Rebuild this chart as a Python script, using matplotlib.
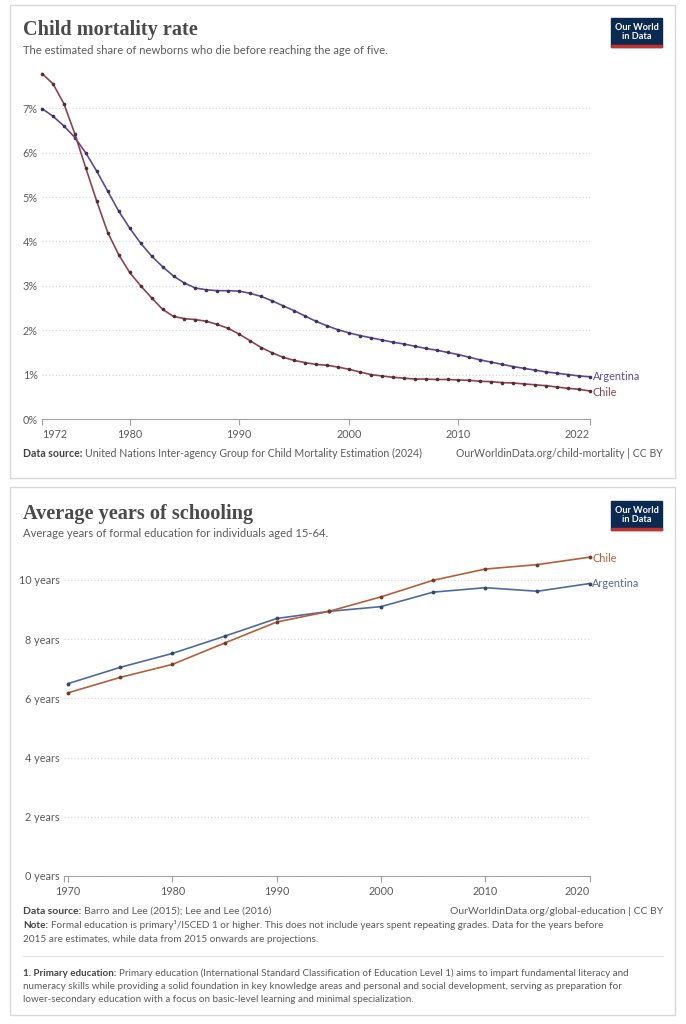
import matplotlib
matplotlib.use("Agg")
import matplotlib.pyplot as plt
from matplotlib.patches import Rectangle

W, H = 686, 1024

# ---- child mortality data (share of newborns dying before age 5, %)
mort_years = list(range(1972, 2023))
mort_chile = [7.78, 7.55, 7.10, 6.42, 5.65, 4.90, 4.20, 3.70, 3.30, 3.00,
              2.73, 2.47, 2.31, 2.26, 2.24, 2.20, 2.13, 2.04, 1.91, 1.76,
              1.61, 1.49, 1.39, 1.32, 1.27, 1.23, 1.21, 1.17, 1.12, 1.06,
              1.00, 0.97, 0.94, 0.92, 0.90, 0.90, 0.89, 0.89, 0.88, 0.87,
              0.85, 0.84, 0.82, 0.81, 0.79, 0.77, 0.75, 0.72, 0.69, 0.67, 0.63]
mort_argentina = [6.99, 6.82, 6.60, 6.34, 5.99, 5.58, 5.13, 4.68, 4.30, 3.96,
                  3.67, 3.43, 3.22, 3.06, 2.95, 2.91, 2.89, 2.89, 2.88, 2.83,
                  2.76, 2.66, 2.55, 2.44, 2.32, 2.20, 2.10, 2.01, 1.94, 1.88,
                  1.83, 1.78, 1.73, 1.69, 1.64, 1.59, 1.55, 1.50, 1.45, 1.39,
                  1.33, 1.28, 1.23, 1.18, 1.14, 1.10, 1.06, 1.03, 1.00, 0.97, 0.95]
mort_xticks = [1972, 1980, 1990, 2000, 2010, 2022]
mort_yticks = [0, 1, 2, 3, 4, 5, 6, 7]

# ---- schooling data (average years of formal education, 15-64)
school_years = [1970, 1975, 1980, 1985, 1990, 1995, 2000, 2005, 2010, 2015, 2020]
school_chile = [6.19, 6.71, 7.15, 7.87, 8.58, 8.94, 9.43, 9.99, 10.37, 10.52, 10.77]
school_argentina = [6.50, 7.05, 7.52, 8.10, 8.70, 8.94, 9.10, 9.59, 9.74, 9.62, 9.88]
school_xticks = [1970, 1980, 1990, 2000, 2010, 2020]
school_yticks = [0, 2, 4, 6, 8, 10]

plt.rcParams['font.family'] = ['Lato', 'DejaVu Sans']
fig = plt.figure(figsize=(W / 100, H / 100), dpi=100)
fig.patch.set_facecolor('white')

TXT = '#5b5b5b'
GRID = '#d4d4d4'
AXIS = '#a0a0a0'
SERIF = ['Liberation Serif', 'DejaVu Serif']


def fx(x):
    return x / W


def fy(y):
    return 1 - y / H


def add_ax(left, top, right, bottom):
    return fig.add_axes([fx(left), fy(bottom), (right - left) / W, (bottom - top) / H])


def panel(top, bottom):
    fig.patches.append(Rectangle((fx(10), fy(bottom)), (675 - 10) / W, (bottom - top) / H,
                                 transform=fig.transFigure, fill=False,
                                 edgecolor='#d8d8d8', lw=1.0))


def logo(top):
    fig.patches.append(Rectangle((fx(611), fy(top + 29)), 51 / W, 29 / H,
                                 transform=fig.transFigure, color='#0b2a52'))
    fig.patches.append(Rectangle((fx(611), fy(top + 29)), 51 / W, 2 / H,
                                 transform=fig.transFigure, color='#c4302b'))
    fig.text(fx(636.5), fy(top + 14), 'Our World\nin Data', color='white', fontsize=6.6,
             fontweight='bold', ha='center', va='center', linespacing=0.95)


def rich(x, y, bold, rest, size=7.4, color=TXT):
    r = fig.canvas.get_renderer()
    t = fig.text(fx(x), fy(y), bold, fontsize=size, fontweight='bold', color='#444444',
                 va='baseline')
    w = t.get_window_extent(renderer=r).width
    fig.text(fx(x + w + 2.5), fy(y), rest, fontsize=size, color=color, va='baseline')


def style_axes(ax, yfmt, xticks, yticks):
    for s in ['top', 'right', 'left']:
        ax.spines[s].set_visible(False)
    ax.spines['bottom'].set_color(AXIS)
    ax.spines['bottom'].set_linewidth(0.8)
    ax.set_xticks(xticks)
    ax.set_yticks(yticks)
    ax.set_yticklabels([yfmt(v) for v in yticks])
    ax.tick_params(axis='x', colors=AXIS, length=4, width=0.8, labelcolor=TXT,
                   labelsize=7.8, pad=3)
    ax.tick_params(axis='y', length=0, labelcolor=TXT, labelsize=7.8, pad=3)
    ax.yaxis.grid(True, color=GRID, linestyle=(0, (1, 2)), lw=0.8)
    ax.set_axisbelow(True)
    ax.patch.set_alpha(0)


# ================= top panel =================
panel(5, 478)
logo(18)
fig.text(fx(23), fy(35), 'Child mortality rate', fontsize=14.6, family=SERIF,
         fontweight='bold', color='#4a4a4a', va='baseline')
fig.text(fx(23), fy(54), 'The estimated share of newborns who die before reaching the age of five.',
         fontsize=8.1, color=TXT, va='baseline')

ax1 = add_ax(42, 419 - 7.9 * 44.4, 590, 419)
c_chile1, c_arg1 = '#8a4450', '#5f4a92'
ax1.plot(mort_years, mort_argentina, color=c_arg1, lw=1.2, marker='o', ms=1.6,
         mfc='#3e3060', mec='#3e3060', clip_on=False)
ax1.plot(mort_years, mort_chile, color=c_chile1, lw=1.2, marker='o', ms=1.6,
         mfc='#5a2a32', mec='#5a2a32', clip_on=False)
ax1.set_xlim(1972, 2022)
ax1.set_ylim(0, 7.9)
style_axes(ax1, lambda v: f'{v}%', mort_xticks, mort_yticks)
labs = ax1.get_xticklabels()
labs[0].set_ha('left')
labs[-1].set_ha('right')
ax1.annotate('Argentina', xy=(mort_years[-1], mort_argentina[-1]), xytext=(2, 0),
             textcoords='offset points', va='center', fontsize=7.8, color=c_arg1,
             annotation_clip=False)
ax1.annotate('Chile', xy=(mort_years[-1], mort_chile[-1]), xytext=(2, -1),
             textcoords='offset points', va='center', fontsize=7.8, color=c_chile1,
             annotation_clip=False)

rich(23, 457, 'Data source:', 'United Nations Inter-agency Group for Child Mortality Estimation (2024)',
     size=7.6)
fig.text(fx(663), fy(457), 'OurWorldinData.org/child-mortality | CC BY', fontsize=7.6,
         color=TXT, ha='right', va='baseline')

# ================= bottom panel =================
panel(487, 1015)
logo(501)
fig.text(fx(23), fy(519), 'Average years of schooling', fontsize=14.6, family=SERIF,
         fontweight='bold', color='#4a4a4a', va='baseline')
fig.text(fx(23), fy(537), 'Average years of formal education for individuals aged 15-64.',
         fontsize=8.1, color=TXT, va='baseline')

ax2 = add_ax(64, 876 - 11 * 29.6, 589.5, 876)
c_chile2, c_arg2 = '#b3603a', '#4f6b9c'
ax2.plot(school_years, school_argentina, color=c_arg2, lw=1.2, marker='o', ms=1.8,
         mfc='#34486c', mec='#34486c', clip_on=False)
ax2.plot(school_years, school_chile, color=c_chile2, lw=1.2, marker='o', ms=1.8,
         mfc='#7a3a22', mec='#7a3a22', clip_on=False)
ax2.set_xlim(1969.6, 2020)
ax2.set_ylim(0, 11)
style_axes(ax2, lambda v: f'{v} years', school_xticks, school_yticks)
ax2.set_xticks([1969.6], minor=True)
ax2.tick_params(axis='x', which='minor', colors=AXIS, length=4, width=0.8)
ax2.get_xticklabels()[-1].set_ha('right')
ax2.annotate('Chile', xy=(school_years[-1], school_chile[-1]), xytext=(2, -1),
             textcoords='offset points', va='center', fontsize=7.8, color=c_chile2,
             annotation_clip=False)
ax2.annotate('Argentina', xy=(school_years[-1], school_argentina[-1]), xytext=(2, 0),
             textcoords='offset points', va='center', fontsize=7.8, color=c_arg2,
             annotation_clip=False)

rich(23, 914, 'Data source:', 'Barro and Lee (2015); Lee and Lee (2016)', size=7.5)
fig.text(fx(663), fy(914), 'OurWorldinData.org/global-education | CC BY', fontsize=7.5,
         color=TXT, ha='right', va='baseline')
rich(23, 928, 'Note:', 'Formal education is primary\u00b9/ISCED 1 or higher. This does not include '
     'years spent repeating grades. Data for the years before', size=7.2)
fig.text(fx(23), fy(942), '2015 are estimates, while data from 2015 onwards are projections.',
         fontsize=7.2, color=TXT, va='baseline')

fig.lines.append(plt.Line2D([fx(23), fx(663)], [fy(956), fy(956)], transform=fig.transFigure,
                            color='#e2e2e2', lw=0.8))

rich(23, 976, '1. Primary education:', 'Primary education (International Standard Classification '
     'of Education Level 1) aims to impart fundamental literacy and', size=7.15)
fig.text(fx(23), fy(989), 'numeracy skills while providing a solid foundation in key knowledge areas '
         'and personal and social development, serving as preparation for',
         fontsize=7.15, color=TXT, va='baseline')
fig.text(fx(23), fy(1002), 'lower-secondary education with a focus on basic-level learning and '
         'minimal specialization.', fontsize=7.15, color=TXT, va='baseline')

fig.savefig('out.png', dpi=100, facecolor='white')
